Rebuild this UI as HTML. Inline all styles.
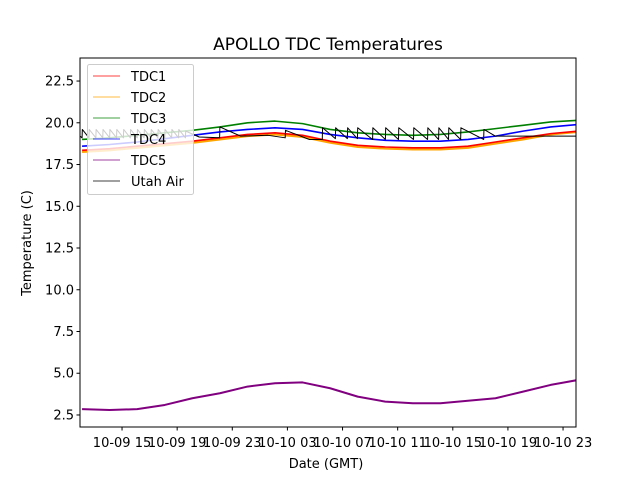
<!DOCTYPE html>
<html><head><meta charset="utf-8"><style>
body{margin:0;background:#fff}
svg{display:block;font-family:"DejaVu Sans","Liberation Sans",sans-serif}
</style></head><body>
<svg id="chart" width="640" height="480" viewBox="0 0 640 480" xmlns="http://www.w3.org/2000/svg">
<rect width="640" height="480" fill="#fff"/>
<text x="328" y="50" font-size="17" text-anchor="middle">APOLLO TDC Temperatures</text>
<g id="plot"></g>
<text x="326" y="468" font-size="13" text-anchor="middle">Date (GMT)</text>
<text transform="translate(31,243) rotate(-90)" font-size="13" text-anchor="middle">Temperature (C)</text>
</svg>
<script>
// hours since 10-09 00:00 GMT
const times = [12.1,14.1,16.1,18.1,20.1,22.1,24.1,26.1,28.1,30.1,32.1,34.1,36.1,38.1,40.1,42.1,44.1,46.1,48.1];
const tdc1 = [18.35,18.45,18.6,18.75,18.9,19.1,19.3,19.4,19.25,18.9,18.65,18.55,18.5,18.5,18.6,18.85,19.1,19.35,19.5];
const tdc2 = [18.25,18.35,18.5,18.65,18.8,19.0,19.2,19.3,19.15,18.8,18.55,18.45,18.4,18.4,18.5,18.75,19.0,19.3,19.45];
const tdc3 = [19.0,19.1,19.25,19.4,19.55,19.75,20.0,20.1,19.95,19.6,19.4,19.3,19.25,19.3,19.45,19.65,19.85,20.05,20.15];
const tdc4 = [18.6,18.7,18.85,19.05,19.25,19.45,19.6,19.7,19.6,19.3,19.1,18.95,18.9,18.9,19.0,19.2,19.5,19.75,19.9];
const tdc5 = [2.85,2.8,2.85,3.1,3.5,3.8,4.2,4.4,4.45,4.1,3.6,3.3,3.2,3.2,3.35,3.5,3.9,4.3,4.6];
// Utah Air: sawtooth vertices
const airTimes = [11.95,12.1,12.12,12.6,12.62,13.1,13.12,13.6,13.62,14.1,14.12,14.6,14.62,15.1,15.12,15.6,15.62,16.1,16.12,16.6,16.62,17.1,17.12,17.6,17.62,18.1,18.12,18.6,18.62,19.1,19.12,19.6,19.62,20.6,22.08,22.1,23.6,25.6,26.84,26.86,28.6,29.53,29.55,30.48,30.5,31.35,31.37,32.08,32.1,33.18,33.2,34.11,34.13,35.06,35.08,36.15,36.17,37.17,37.19,37.97,37.99,38.69,38.71,39.57,39.59,41.24,41.26,42.1,48.1];
const airVals  = [19.2,19.1,19.6,19.1,19.6,19.1,19.6,19.1,19.6,19.1,19.6,19.1,19.6,19.1,19.6,19.1,19.6,19.1,19.6,19.1,19.6,19.1,19.6,19.1,19.6,19.1,19.6,19.1,19.6,19.1,19.6,19.1,19.5,19.15,19.1,19.75,19.2,19.25,19.1,19.55,19.0,19.0,19.7,19.05,19.7,19.05,19.7,19.05,19.7,19.0,19.7,19.0,19.7,19.0,19.7,19.0,19.7,19.0,19.7,19.0,19.7,19.0,19.7,19.0,19.7,19.0,19.6,19.2,19.2];
const yTicks = [2.5,5.0,7.5,10.0,12.5,15.0,17.5,20.0,22.5];
const xTickHours = [15,19,23,27,31,35,39,43,47];
const xTickLabels = ["10-09 15","10-09 19","10-09 23","10-10 03","10-10 07","10-10 11","10-10 15","10-10 19","10-10 23"];
const legendNames = ["TDC1","TDC2","TDC3","TDC4","TDC5","Utah Air"];

const L=80,R=576,T=58,B=427, X0=11.95, X1=47.94, Y0=1.78, Y1=23.88;
const NS="http://www.w3.org/2000/svg";
const xs=h=>L+(h-X0)/(X1-X0)*(R-L);
const ys=v=>B-(v-Y0)/(Y1-Y0)*(B-T);
const g=document.getElementById('plot');
function mk(tag,attrs,parent){const e=document.createElementNS(NS,tag);for(const k in attrs)e.setAttribute(k,attrs[k]);(parent||g).appendChild(e);return e;}
const clip=mk('clipPath',{id:'c'});mk('rect',{x:L,y:T,width:R-L,height:B-T},clip);
const lines=mk('g',{'clip-path':'url(#c)'});


function series(ts,vs,color,name,w){
  const d=ts.map((t,i)=>(i?'L':'M')+xs(t).toFixed(2)+','+ys(vs[i]).toFixed(2)).join('');
  const p=mk('path',{d:d,fill:'none',stroke:color,'stroke-width':w,'stroke-linejoin':'round'},lines);
  
  
}
series(times,tdc2,'#ffa500','tdc2-line',2);
series(times,tdc1,'#ff0000','tdc1-line',1.6);
series(times,tdc3,'#008000','tdc3-line',1.6);
series(times,tdc4,'#0000ff','tdc4-line',1.6);
series(times,tdc5,'#800080','tdc5-line',2);
series(airTimes,airVals,'#000000','utah-air-line',1);
const fr=mk('rect',{x:L,y:T,width:R-L,height:B-T,fill:'none',stroke:'#000','stroke-width':1});


yTicks.forEach(v=>{
  const y=ys(v);
  const t=mk('line',{x1:L-3.5,x2:L,y1:y,y2:y,stroke:'#000','stroke-width':1});
  
  
  const tx=mk('text',{x:L-6,y:y+4.5,'font-size':13,'text-anchor':'end'});
  
  
  tx.textContent=v.toFixed(1);
});
xTickHours.forEach((h,i)=>{
  const x=xs(h);
  const t=mk('line',{x1:x,x2:x,y1:B,y2:B+3.5,stroke:'#000','stroke-width':1});
  
  
  const tx=mk('text',{x:x,y:B+20,'font-size':13,'text-anchor':'middle'});
  
  
  tx.textContent=xTickLabels[i];
});
const lg=mk('g',{});


mk('rect',{x:87.5,y:64.5,width:106,height:130,rx:2,fill:'#fff','fill-opacity':0.8,stroke:'#cccccc'},lg);
const lc=['#ff0000','#ffa500','#008000','#0000ff','#800080','#000000'];
legendNames.forEach((n,i)=>{
  const y=76+i*21;
  const e=mk('g',{},lg);
  
  
  mk('line',{x1:93,x2:120,y1:y,y2:y,stroke:lc[i],'stroke-width':0.8},e);
  const t=mk('text',{x:131,y:y+5,'font-size':13},e);
  t.textContent=n;
});
</script>
</body></html>
